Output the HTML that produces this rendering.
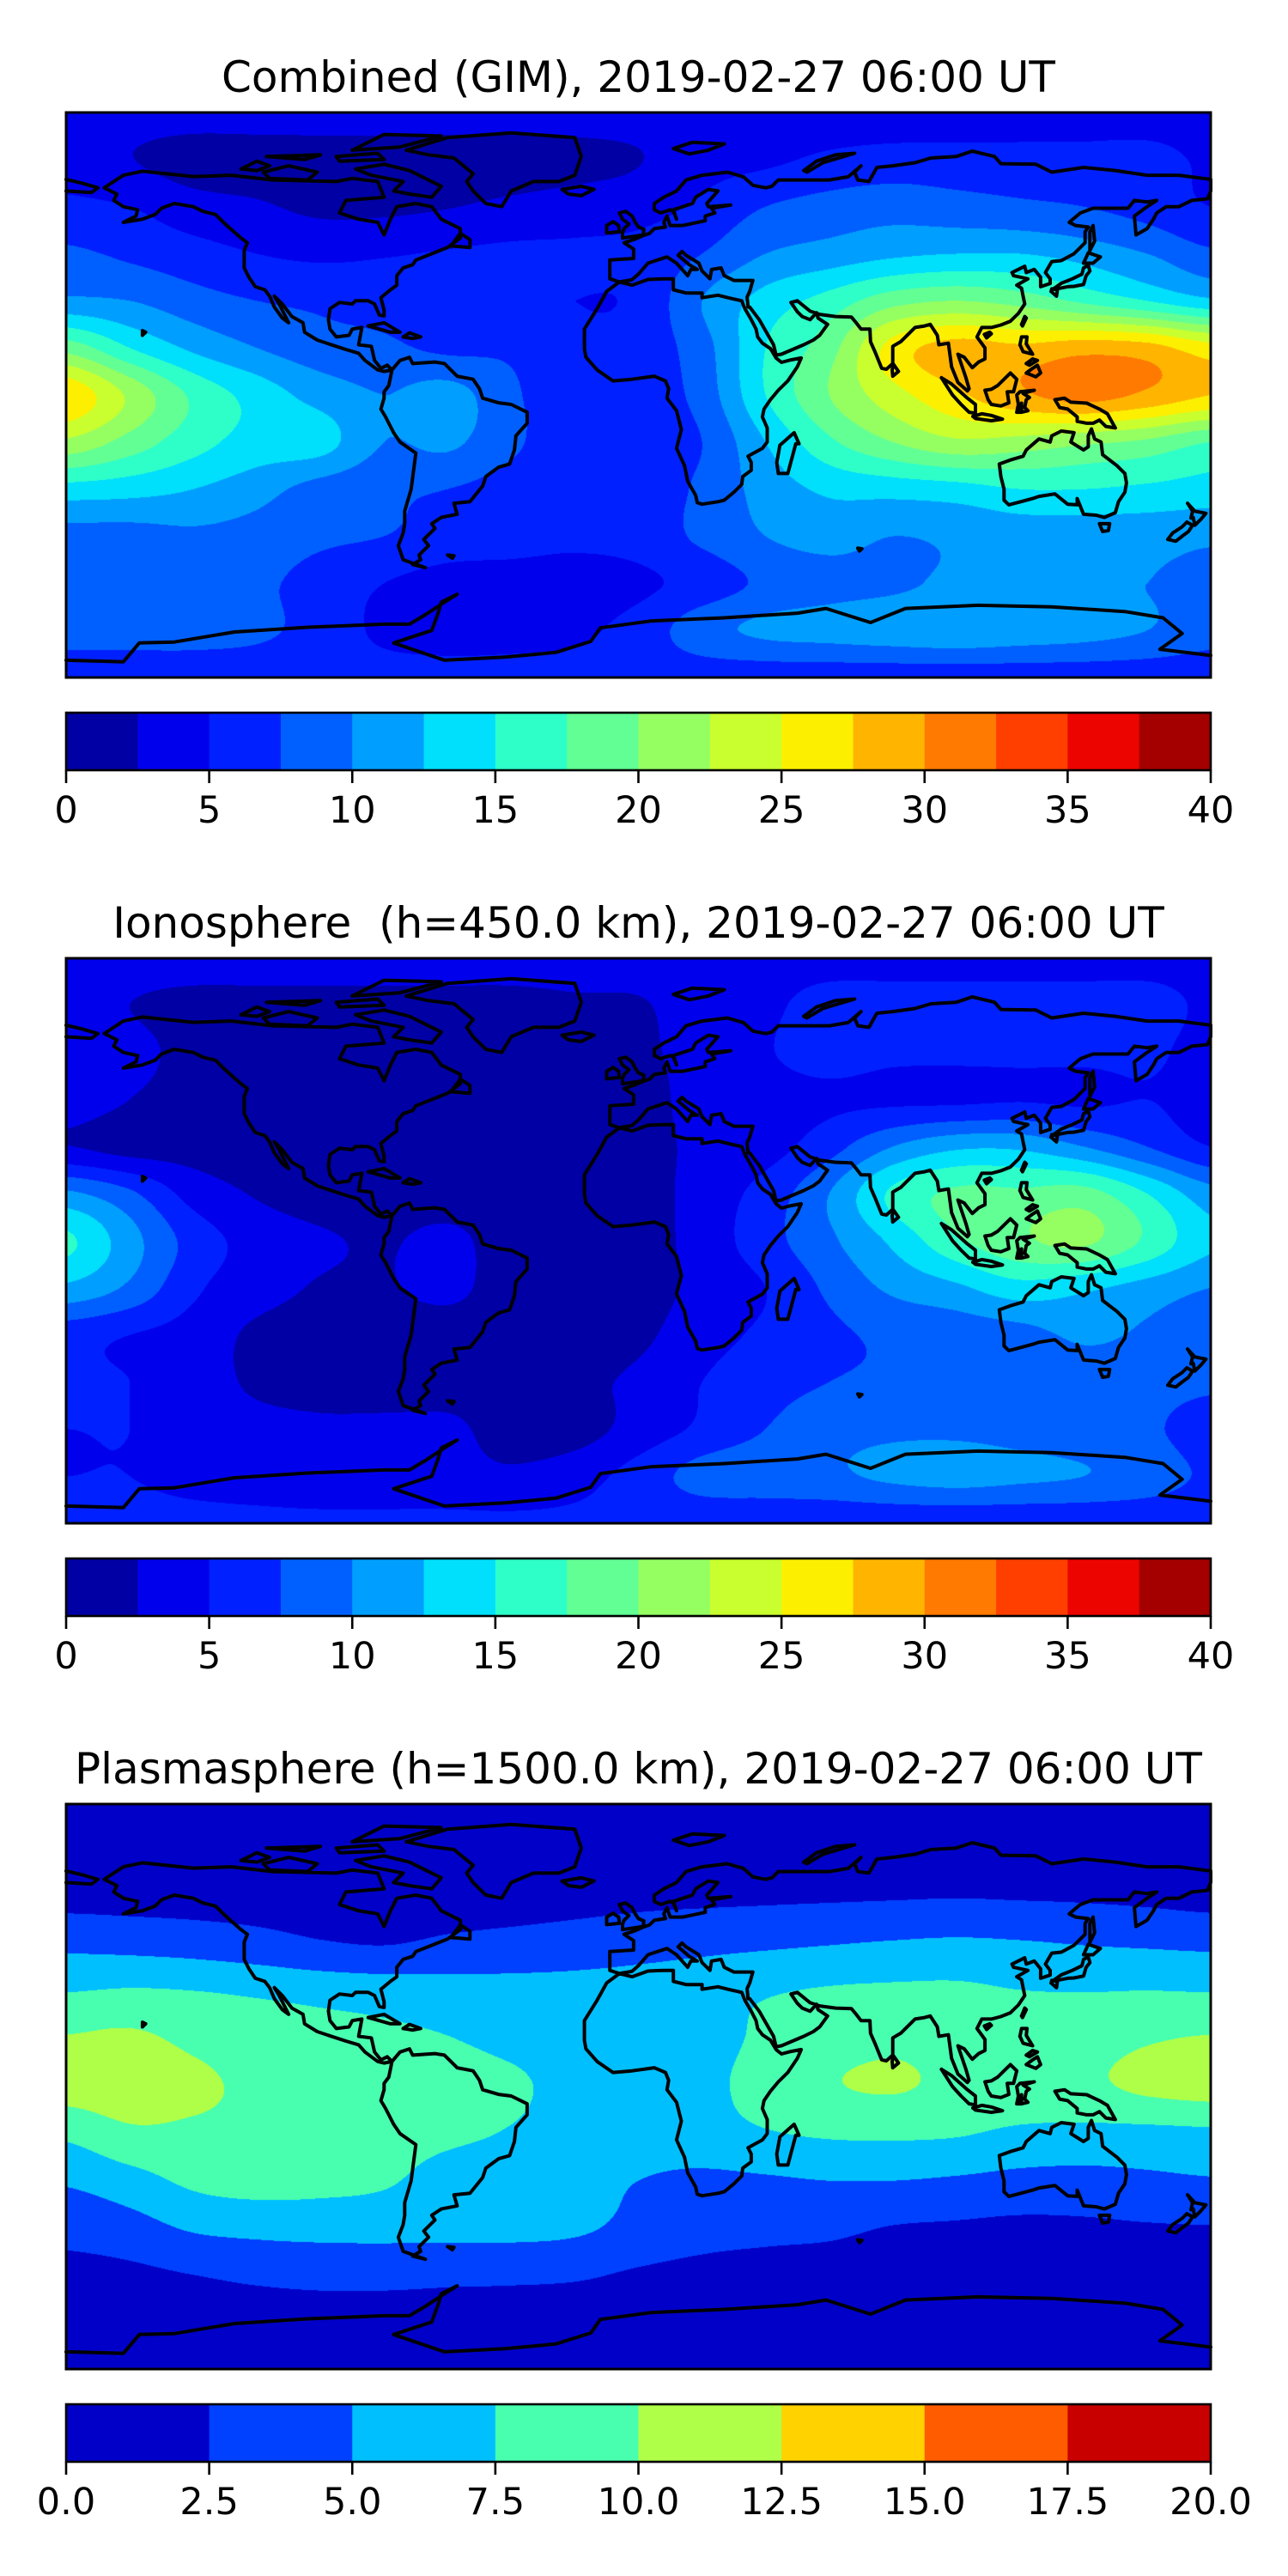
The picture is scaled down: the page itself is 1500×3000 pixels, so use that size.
<!DOCTYPE html>
<html><head><meta charset="utf-8">
<style>
html,body{margin:0;padding:0;background:#fff;}
body{width:1500px;height:3000px;position:relative;overflow:hidden;font-family:"DejaVu Sans","Liberation Sans",sans-serif;}
canvas{position:absolute;}
svg{position:absolute;left:0;top:0;}
text{white-space:pre;}
</style></head>
<body>
<canvas id="map0" width="1333" height="658" style="left:77px;top:131px"></canvas>
<canvas id="map1" width="1333" height="658" style="left:77px;top:1116px"></canvas>
<canvas id="map2" width="1333" height="658" style="left:77px;top:2101px"></canvas>
<svg id="ov" width="1500" height="3000" xmlns="http://www.w3.org/2000/svg"></svg>
<script>
// ---- data: grid values, rows lat 90..-90 step 15, cols lon -180..180 step 20 ----
const gridLons = [-180,-160,-140,-120,-100,-80,-60,-40,-20,0,20,40,60,80,100,120,140,160,180];
const gridLats = [90,75,60,45,30,15,0,-15,-30,-45,-60,-75,-90];
const combinedTEC = [
[3.5,3.5,3.5,3.5,3.5,3.5,3.5,3.5,3.5,3.5,3.5,3.5,3.5,3.5,3.5,3.5,3.5,3.5,3.5],
[4,2.6,1.5,1.5,1.5,1.5,1.5,1.5,1.8,2.4,4,4.5,5.5,6,6,6,6,6,4.5],
[5.5,5,3.5,2.8,2,2,2.4,3,3.5,4,5.5,7.5,8.5,9,8.5,8,7.5,6.5,5],
[8,7,6,5,4.5,4.8,5.2,5.5,5.5,5.8,7.5,10,11,12,12.5,12.5,11.5,10,8],
[10.5,10,8.5,7.5,7,6.5,6,5.5,5,5.5,10,13.5,16,19,20,19,17,15,13],
[19,15,12,10,8.5,8,7,7,5.5,6,9,15,19,26,28.5,28,29,28.5,26],
[27,22,17,14,11.5,10,11,8,5.5,6,8.5,15,20,24,27,29.5,31,29.5,27.5],
[22,19,16,14,13.5,10,10.5,8,6,6,7.5,12.5,17,20,22,21.5,20.5,19.5,17.5],
[14,13.5,12.5,11,9,8,7.5,6.5,5.5,6,8,11,13,13.5,14,15,15,14.5,14],
[9,9,9.5,9,8,7.5,6.5,6,5.5,6,8,10,11,10,10.5,11,11,11,10.5],
[8.5,8.5,8.5,8,6.5,5,4,4,4,4.5,6,8,9,9.5,10.5,10.5,10.5,10,9],
[8.5,8.5,8.5,8,6.5,4.5,3.8,4,4.5,6,9,10.5,11,11.5,12,11.5,11,10,8.5],
[6,6,6,6,6,6,6,6,6,6,6,6,6,6,6,6,6,6,6]];
const ionoTEC = [
[4,4,4,4,4,4,4,4,4,4,4,4,4,4,4,4,4,4,4],
[4,2.5,1.5,1.5,1.5,1.5,1.5,1.5,2,2.2,4,4.5,6,6,6,6,6,6,4.5],
[4,3.5,1.5,1.5,1.5,1.5,1.5,1.5,1.5,2,3.5,4.8,6,5.5,5.5,5.5,5.5,5.5,4],
[4,2.5,1.5,1.5,1.5,1.5,1.5,1.5,1.5,1.5,3.5,4,4.5,4.5,4.5,4.8,4.5,5,4],
[2.6,1.5,1.5,1.5,1.5,1.5,1.5,1.5,1.5,1.8,3,4,6.5,10,12,12,10,7.5,5],
[10.5,8,4,2.3,1.5,1.5,1.5,1.5,1.5,1.5,3.5,6,10,15.5,18,18,18.5,15,11],
[15.5,11,6.5,4,2.8,2.3,3,1.5,1.5,1.5,3.5,6.5,9.5,13,17,19.5,20.5,17,13],
[12,9.5,5.5,3.5,2.3,2.3,3,1.5,1.5,1.5,3.2,5,8,10.5,12,14,13,11.5,10],
[6,5,4,2,1.5,1.5,1.5,1.5,1.5,2,4,5.5,7,8,8.5,9,10.5,9.5,8],
[5.5,5,4,2,1.5,1.5,1.5,2,2,3,5,6.5,7.5,8,8.5,8,8.5,8.5,8],
[5,5,4.5,3.5,3,3,3,1.5,1.5,3.5,5.5,7.5,9,9.5,9.5,9,8.5,8,6],
[5,5,4.5,4,3.5,3.5,3.5,3,4,6,8.5,9,9.5,10.5,11,10.5,10,9,7],
[5.5,5.5,5.5,5.5,5.5,5.5,5.5,5.5,5.5,5.5,5.5,5.5,5.5,5.5,5.5,5.5,5.5,5.5,5.5]];
const plasmaTEC = [
[1,1,1,1,1,1,1,1,1,1,1,1,1,1,1,1,1,1,1],
[1.2,1.2,1.2,1.2,1.2,1.2,1.2,1.2,1.2,1.2,1.2,1.2,1.2,1.2,1.2,1.2,1.2,1.2,1.2],
[1.8,1.7,1.6,1.5,1.4,1.4,1.5,1.6,1.8,2,2.1,2.2,2.3,2.4,2.5,2.4,2.3,2.1,1.8],
[4.5,4.3,4,3.5,2.8,2.5,3,3.3,3.6,4,4.4,4.7,5,5.3,5.5,5.3,5,4.8,4.6],
[7.5,7.8,7.6,7.2,6.8,6.5,6.2,6,6,6.2,6.6,7.3,7.8,8,8,7.6,7.5,7.6,7.5],
[10.2,10.5,9.5,8.8,8.3,8,7.6,6.8,6.2,6,6.5,8,9,9.5,9,9,9,9.8,10.2],
[11,11.3,10.5,9.5,9,8.8,8.7,8,6.5,6,6.8,8.5,9.8,10.2,9.5,9.3,9.5,10.5,11],
[8,9.5,9.5,9.3,9,8.5,8,7.3,6.2,6,6.5,7.3,7.8,7.9,7.7,7,6.8,6.8,7],
[5.3,6.5,8,8.5,8.3,7.8,6.5,6,5.7,5,4.5,4.7,5,5,4.7,4.3,4.2,4.5,4.8],
[3.3,4,5.3,5.7,5.8,5.8,5.7,5.7,5.4,4.3,3.5,3.2,3,2.4,2.2,2,2.1,2.3,2.4],
[1.8,2,2.5,3,3.3,3.3,3.1,3,2.8,2.2,1.8,1.6,1.5,1.4,1.3,1.3,1.3,1.3,1.3],
[1.2,1.2,1.2,1.2,1.2,1.2,1.2,1.2,1.2,1.2,1.2,1.2,1.2,1.2,1.2,1.2,1.2,1.2,1.2],
[1,1,1,1,1,1,1,1,1,1,1,1,1,1,1,1,1,1,1]];
const levelsA = [0,2.5,5,7.5,10,12.5,15,17.5,20,22.5,25,27.5,30,32.5,35,37.5,40];
const levelsB = [0,2.5,5,7.5,10,12.5,15,17.5,20];
const ticksA = ["0","5","10","15","20","25","30","35","40"];
const ticksB = ["0.0","2.5","5.0","7.5","10.0","12.5","15.0","17.5","20.0"];
const tickValsA = [0,5,10,15,20,25,30,35,40];
const tickValsB = [0,2.5,5,7.5,10,12.5,15,17.5,20];
const titles = ["Combined (GIM), 2019-02-27 06:00 UT","Ionosphere  (h=450.0 km), 2019-02-27 06:00 UT","Plasmasphere (h=1500.0 km), 2019-02-27 06:00 UT"];

// ---- layout ----
const MX=77, MW=1333, MH=658;
const panelTop=[131,1116,2101];
const CBH=67, CBGAP=699;
const panels=[{g:combinedTEC,lv:levelsA,tk:ticksA,tv:tickValsA},
              {g:ionoTEC,lv:levelsA,tk:ticksA,tv:tickValsA},
              {g:plasmaTEC,lv:levelsB,tk:ticksB,tv:tickValsB}];

function seg(t,pts){for(let i=0;i<pts.length-1;i++){const a=pts[i],b=pts[i+1];if(t<=b[0]){return a[1]+(b[1]-a[1])*Math.max(0,(t-a[0]))/(b[0]-a[0]);}}return pts[pts.length-1][1];}
function jet(t){
 const r=seg(t,[[0,0],[0.35,0],[0.66,1],[0.89,1],[1,0.5]]);
 const g=seg(t,[[0,0],[0.125,0],[0.375,1],[0.64,1],[0.91,0],[1,0]]);
 const b=seg(t,[[0,0.5],[0.11,1],[0.34,1],[0.65,0],[1,0]]);
 return [Math.round(r*255),Math.round(g*255),Math.round(b*255)];
}
function levelColors(lv){const n=lv.length-1,c=[];for(let i=0;i<n;i++)c.push(jet((i+0.5)/n));return c;}
function cr(p0,p1,p2,p3,t){return 0.5*((2*p1)+(-p0+p2)*t+(2*p0-5*p1+4*p2-p3)*t*t+(-p0+3*p1-3*p2+p3)*t*t*t);}
function sample(g,u,v){
 const nr=g.length,nc=g[0].length;
 const i=Math.min(Math.floor(v),nr-2),j=Math.min(Math.floor(u),nc-2);
 const fv=v-i,fu=u-j;const rows=[];
 for(let di=-1;di<=2;di++){const r=g[Math.max(0,Math.min(nr-1,i+di))];
  const c=k=>r[Math.max(0,Math.min(nc-1,j+k))];
  rows.push(cr(c(-1),c(0),c(1),c(2),fu));}
 return cr(rows[0],rows[1],rows[2],rows[3],fv);
}
panels.forEach((p,k)=>{
 const cv=document.getElementById('map'+k),ctx=cv.getContext('2d');
 const img=ctx.createImageData(MW,MH),cols=levelColors(p.lv),n=cols.length,step=p.lv[1]-p.lv[0];
 const nc=p.g[0].length-1,nr=p.g.length-1;
 for(let y=0;y<MH;y++){const v=(y+0.5)/MH*nr;
  for(let x=0;x<MW;x++){const u=(x+0.5)/MW*nc;
   let val=sample(p.g,u,v);let idx=Math.floor((val-p.lv[0])/step);idx=Math.max(0,Math.min(n-1,idx));
   const c=cols[idx],o=(y*MW+x)*4;img.data[o]=c[0];img.data[o+1]=c[1];img.data[o+2]=c[2];img.data[o+3]=255;}}
 ctx.putImageData(img,0,0);
});

// ---- coastlines (lon,lat) ----
const coasts=[
[[-168,66],[-162,70],[-156,71.3],[-140,69.6],[-128,70],[-115,68.5],[-95,68],[-90,69],[-82,68],[-80,63],[-92,62],[-94,58],[-88,56],[-82,55],[-80,51],[-78,56],[-76,60],[-70,61],[-65,60],[-62,56],[-56,53],[-56,50],[-60,47],[-65,45],[-70,43],[-71,41.5],[-74,40.5],[-76,38],[-76,35],[-78,33.5],[-81,31],[-80,27],[-80,25.2],[-81.5,25.5],[-83,29],[-85,30],[-89,30],[-90,29],[-94,29.5],[-97,27.5],[-97.5,24],[-97,21],[-95,18.5],[-91,19],[-90,21],[-87,21.5],[-88,16],[-84,15.5],[-83,11],[-81,8.5],[-79,9.5],[-77.5,8],[-80,7.5],[-82,8],[-86,11],[-88,13.3],[-92,14.5],[-96,15.8],[-101,17.5],[-105,20],[-105.5,23],[-109,25],[-112,29],[-114.5,31.5],[-113,29],[-110,23],[-112,24.5],[-114.5,28],[-116,31.5],[-117.5,33.5],[-120.5,34.5],[-122.5,37.5],[-124,40.5],[-124,46],[-123,48.5],[-125,50],[-130,54.5],[-133,57.5],[-137,58.5],[-140,60],[-146,61],[-150,59.5],[-152,57.5],[-156,56],[-162,55],[-158,57],[-157.5,59],[-162,60],[-165,62],[-164,64],[-168,66]],
[[-73,78],[-60,82],[-40,83.5],[-20,82],[-18,76],[-20,70],[-25,68],[-33,68],[-40,65],[-43,60],[-48,61],[-52,65],[-54,68],[-52,70.5],[-58,75.5],[-66,76.5],[-73,78]],
[[-80,73.5],[-72,71.5],[-67,69],[-62,66.5],[-65,63],[-72,64],[-77,65],[-74,68],[-84,70],[-89,72],[-80,73.5]],
[[-118,71],[-110,73],[-101,71],[-104,68.5],[-116,69],[-118,71]],
[[-90,78],[-80,83],[-62,82.5],[-75,79],[-90,78]],
[[-125,72],[-120,74.5],[-116,73],[-120,71.5],[-125,72]],
[[-95,76],[-82,77],[-80,75],[-94,74.5],[-95,76]],
[[-117,76],[-100,76.5],[-105,75],[-117,76]],
[[-59,47.5],[-53,47],[-53,49.5],[-56,51.5],[-59,47.5]],
[[-85,22],[-80,23],[-75,20],[-78,20],[-85,22]],
[[-74,18.5],[-72,19.8],[-68.5,18.5],[-71,18],[-74,18.5]],
[[-24,65.5],[-18,66.5],[-14,65.5],[-18,63.5],[-22,64],[-24,65.5]],
[[-77.5,8],[-75,11],[-72,12],[-71,10],[-64,10.5],[-61,10],[-57,6],[-52,5],[-50,2],[-49,-1],[-44,-2.5],[-40,-3],[-35,-5.5],[-35,-9],[-38.5,-13],[-39,-17.5],[-40.5,-22],[-44,-23],[-48,-26],[-49,-29],[-53,-34],[-58,-34.5],[-57,-38],[-62,-39],[-65,-41],[-64,-42.5],[-67.5,-46],[-66,-48],[-69,-51],[-68.5,-52.5],[-71,-54],[-67,-55],[-74,-52.5],[-75.5,-48],[-74,-44],[-73.5,-41],[-73.5,-37],[-71.5,-30],[-70,-18.5],[-75,-15],[-77,-12],[-79.5,-7],[-81,-4.5],[-80,-1],[-80,1],[-78.5,3],[-77.5,8]],
[[-9,43],[-9,37],[-6,36],[-2,36.7],[0,38.5],[3,42],[6,43],[9,44],[12,42],[15.5,38],[16.5,40],[18.5,40],[16,41.5],[12.5,44.5],[13.7,45.7],[15,44.5],[19,42],[20,39.5],[22.5,37],[23,40],[26,40.5],[27,38],[30,36.5],[36,36.5],[35,33],[34.2,31.2],[34.5,28],[35,28],[38,24],[42.5,16],[43.3,12.7],[45,13],[52,16],[55,17.5],[57,19],[59.5,22.5],[56.5,24.5],[56,26.2],[54,24],[51.5,25],[50,26.5],[48,29.5],[50,30],[54,26.7],[57,25.7],[62,25],[67,24.8],[68.5,23],[70,21],[72.8,21],[73,17],[74.5,13.5],[76.5,8.5],[78,8.2],[80,10],[80,15.5],[82.5,17],[87,21.5],[90,22],[91.8,22.5],[94,19],[94.5,16],[97.5,16.5],[98.5,9],[100.5,4],[103.5,1.3],[104,2],[103,5.5],[100.5,13],[102.5,12],[105,8.7],[107,10.5],[109,11.5],[109,15],[106.5,18.5],[108,21.5],[111,21.5],[114,22.3],[117,23.5],[119.5,26],[121.5,29],[121,31.5],[120.5,34],[119,35],[122.5,37],[118,38],[117.5,39],[121.5,41],[122,39],[124.5,40],[126.5,37.5],[126.5,34.5],[129.5,35.5],[129.5,37],[128,39],[130,42.5],[133,42.8],[137,45],[140.5,48.5],[140.5,52],[141.5,53.5],[137.5,54],[135.5,55],[139,58],[143,59.5],[149,59.5],[154,59.5],[156,62],[160,61.5],[163,62],[160,60],[156,57],[156.5,51],[160,53],[162,56],[163,58],[166,60],[170,60],[174,62],[179,62.5],[180,65],[180,68.7],[170,70],[160,70],[150,71.5],[140,72.5],[130,71],[125,73.5],[114,73.7],[112,76],[105,77.7],[100,76],[92,75.5],[87,74],[80,73],[75,72.5],[72.5,68],[69,68.5],[68,71],[70,73],[66,69.5],[60,68.5],[55,68.5],[44,68.5],[42,66.5],[40,66],[36,66.8],[33,69.5],[28,71],[20,70],[15,68.5],[12,65],[8,63],[5,61],[5,59],[7,58],[10,59],[11,58.5],[12,56],[11,59],[17,61],[18,63],[22,65.5],[25,65],[21.5,61],[22,60],[29,60.5],[23,59.5],[24,58],[21,57],[21,55.5],[14,54],[10,54],[9,57],[8,55],[8.5,53.5],[5,53],[3.5,51.5],[1.5,50.8],[-1.5,49.5],[-4.5,48.5],[-1.5,46.5],[-1.5,43.5],[-9,43]],
[[-180,65],[-172,64.5],[-170,66],[-175,67.5],[-180,68.7]],
[[52,71.5],[56,74.5],[62,76.5],[68,77],[58,74],[53,71],[52,71.5]],
[[11,78.5],[17,80.5],[27,80],[22,78],[16,76.8],[11,78.5]],
[[-5,50],[1.5,51],[1.7,52.8],[0,53.5],[-1,55],[-2,57],[-4,58.5],[-6,58],[-5,56],[-3,54.5],[-4.5,53],[-5,51.7],[-5,50]],
[[-6,52],[-6.2,54],[-8,55.2],[-10,54],[-10,51.6],[-6,52]],
[[-6,36],[-10,33],[-13,27.5],[-17,21],[-17,14.7],[-16.5,12],[-13,8],[-8,4.5],[-2,5],[5,6],[8.5,4.5],[9.5,2],[9,-1],[12,-5],[13.5,-11],[12,-17],[14.5,-22.5],[15.5,-27.5],[18,-32],[18.5,-34.3],[20,-34.8],[25,-34],[27,-33.5],[30,-31],[32.5,-28.5],[32.8,-26],[35.5,-24],[35.5,-21.5],[34.5,-19.5],[39,-17],[40.5,-15],[40.5,-10.5],[39,-7],[39.5,-4.5],[41.5,-1.5],[44,1.5],[47,4.5],[50,9],[51.2,11.8],[48,11.2],[45,10.4],[43.3,11.8],[41.5,14.8],[39,16.5],[37.5,18.5],[37,21],[35.5,24],[33.5,27.5],[32.5,30],[29,30.8],[25,31.8],[20,31],[20,32.5],[15,32.5],[11,33.5],[11,37],[8,37],[3,36.8],[-2,35],[-6,36]],
[[44,-25],[47,-25],[49.5,-15.5],[50.5,-15.5],[49,-12],[44.5,-16],[43.5,-21.5],[44,-25]],
[[80,6],[81.8,7.5],[80.2,9.8],[79.8,8],[80,6]],
[[130.8,34],[132,33.9],[135,34.5],[137,34.6],[140,35.2],[140.8,38],[142,39.5],[141.5,41.3],[140,40.5],[139.5,38.5],[136.5,37],[133,35.6],[130.8,34]],
[[140,42],[141.5,45.3],[145.3,44],[143,42],[140,42]],
[[129.8,33],[131.5,31.5],[131.8,33.5],[130,33.8],[129.8,33]],
[[142,46],[143.5,49],[143,54],[142,52],[142,46]],
[[120.5,22.5],[121.5,25],[122,24.5],[120.8,22],[120.5,22.5]],
[[108.8,19.3],[110.5,20],[111,19.5],[109.5,18.2],[108.8,19.3]],
[[120,16],[120.5,18.5],[122.2,18.5],[122,16.3],[124,13],[121,13.8],[120,16]],
[[122,7],[124,8.5],[125.5,9.5],[126.5,7],[125,5.8],[122,7]],
[[122,10],[124,11.5],[125.5,11],[123,9.5],[122,10]],
[[109,1.5],[110,-1.5],[111,-3],[114,-3.5],[116.5,-2.5],[116,1],[118,1],[119,5],[117,7],[115,5],[113,3],[111,1.8],[109,1.5]],
[[95.3,5.5],[98.5,3.5],[103.5,-1],[106,-3],[106,-5.8],[104,-5.5],[101.5,-3],[98.8,0],[95.3,5.5]],
[[105.2,-6.8],[108,-6],[111,-6.5],[114.5,-7.7],[111,-8.2],[106,-7.5],[105.2,-6.8]],
[[119,-5.5],[119.5,-3],[119,0],[120,1],[124.5,1.5],[121,0.5],[123,-0.8],[122,-1.5],[121.5,-4],[122.5,-5],[120.5,-5.5],[120.5,-2.6],[120,-5.5],[119,-5.5]],
[[131,-1.5],[134,-1],[136,-2.3],[141,-2.6],[145,-4.5],[147.5,-6],[150,-10.5],[147,-10],[145,-8],[143,-9],[141,-9],[138,-8.4],[138,-7],[135,-4.5],[132.5,-4],[131,-1.5]],
[[113.5,-22],[114,-26],[115,-30],[115,-33.5],[116.5,-35],[121,-33.8],[124,-33],[126,-32.3],[131,-31.5],[135,-34.8],[138,-35],[138,-33],[140,-38],[144,-38.3],[146.5,-39],[150,-37.5],[151,-34],[153,-31],[153.5,-28],[153,-25],[150.5,-22.5],[146,-19],[145.5,-15],[143.5,-14],[142.5,-10.8],[141.5,-13],[141.5,-16.5],[140,-17.5],[136,-15],[137,-12],[133,-11.5],[130,-13],[129.5,-15],[126,-14],[122,-17.5],[121,-19.5],[117,-20.7],[113.5,-22]],
[[145,-41],[148.2,-41],[147.8,-43.2],[146,-43.5],[145,-41]],
[[172.7,-34.5],[175,-37],[178.5,-37.7],[177,-39.5],[175,-41.5],[174.5,-39],[173.8,-39.2],[174.3,-37],[172.7,-34.5]],
[[172.5,-40.5],[174.3,-41.5],[173,-43.5],[171,-45],[169,-46.6],[166.5,-46],[168,-44],[171,-42],[172.5,-40.5]],
[[-180,-84.5],[-162,-85],[-157,-79],[-146,-78.7],[-127,-75.5],[-104,-74],[-80,-73],[-72,-73],[-67,-70],[-61,-66],[-57,-63.5],[-62,-66],[-63,-69.5],[-65,-75],[-77,-79],[-61,-84.5],[-42,-83.5],[-26,-82],[-15,-78.5],[-12,-74.2],[4,-72],[27,-71],[50,-69.5],[59,-68],[73,-72.5],[84,-68],[107,-67],[130,-67.5],[153,-69],[165,-71],[171,-76],[164,-81],[180,-83]],
[[-60,-51],[-58,-51.2],[-58.5,-52],[-60,-51]],
[[69,-48.8],[70.3,-49],[69.5,-49.7],[69,-48.8]],
[[-156,19],[-155,20],[-156,20.5],[-156,19]]
];
const NS='http://www.w3.org/2000/svg';
const ov=document.getElementById('ov');
function mk(tag,attrs,parent){const e=document.createElementNS(NS,tag);for(const k in attrs)e.setAttribute(k,attrs[k]);(parent||ov).appendChild(e);return e;}
const names=['combined','ionosphere','plasmasphere'];
panels.forEach((p,k)=>{
 const top=panelTop[k];
 const px=lon=>MX+(lon+180)/360*MW, py=lat=>top+(90-lat)/180*MH;
 const grp=mk('g',{});
 
 
 const t=mk('text',{x:MX+MW/2,y:top-24,'text-anchor':'middle','font-size':'50','font-family':'DejaVu Sans, Liberation Sans, sans-serif',fill:'#000'},grp);
 t.textContent=titles[k];
 
 
 let d='';
 coasts.forEach(c=>{c.forEach((pt,i)=>{d+=(i?'L':'M')+px(pt[0]).toFixed(1)+' '+py(pt[1]).toFixed(1);});});
 const cp=mk('path',{d:d,fill:'none',stroke:'#000','stroke-width':'4','stroke-linejoin':'round','stroke-linecap':'round'},grp);
 
 
 const fr=mk('rect',{x:MX,y:top,width:MW,height:MH,fill:'none',stroke:'#000','stroke-width':'3'},grp);
 
 
 // colorbar
 const cy=top+CBGAP, cols=levelColors(p.lv), lo=p.lv[0], hi=p.lv[p.lv.length-1];
 const cx=v=>MX+(v-lo)/(hi-lo)*MW;
 const cb=mk('g',{},grp);
 
 
 for(let i=0;i<cols.length;i++){
  const r=mk('rect',{x:cx(p.lv[i]),y:cy,width:cx(p.lv[i+1])-cx(p.lv[i])+0.5,height:CBH,fill:'rgb('+cols[i].join(',')+')'},cb);
  
  
 }
 mk('rect',{x:MX,y:cy,width:MW,height:CBH,fill:'none',stroke:'#000','stroke-width':'2.6'},cb);
 p.tv.forEach((v,i)=>{
  const tm=mk('line',{x1:cx(v),x2:cx(v),y1:cy+CBH,y2:cy+CBH+15,stroke:'#000','stroke-width':'2.6'},cb);
  
  
  const tl=mk('text',{x:cx(v),y:cy+CBH+61,'text-anchor':'middle','font-size':'43','font-family':'DejaVu Sans, Liberation Sans, sans-serif',fill:'#000'},cb);
  tl.textContent=p.tk[i];
  
  
 });
});
</script>
</body></html>
